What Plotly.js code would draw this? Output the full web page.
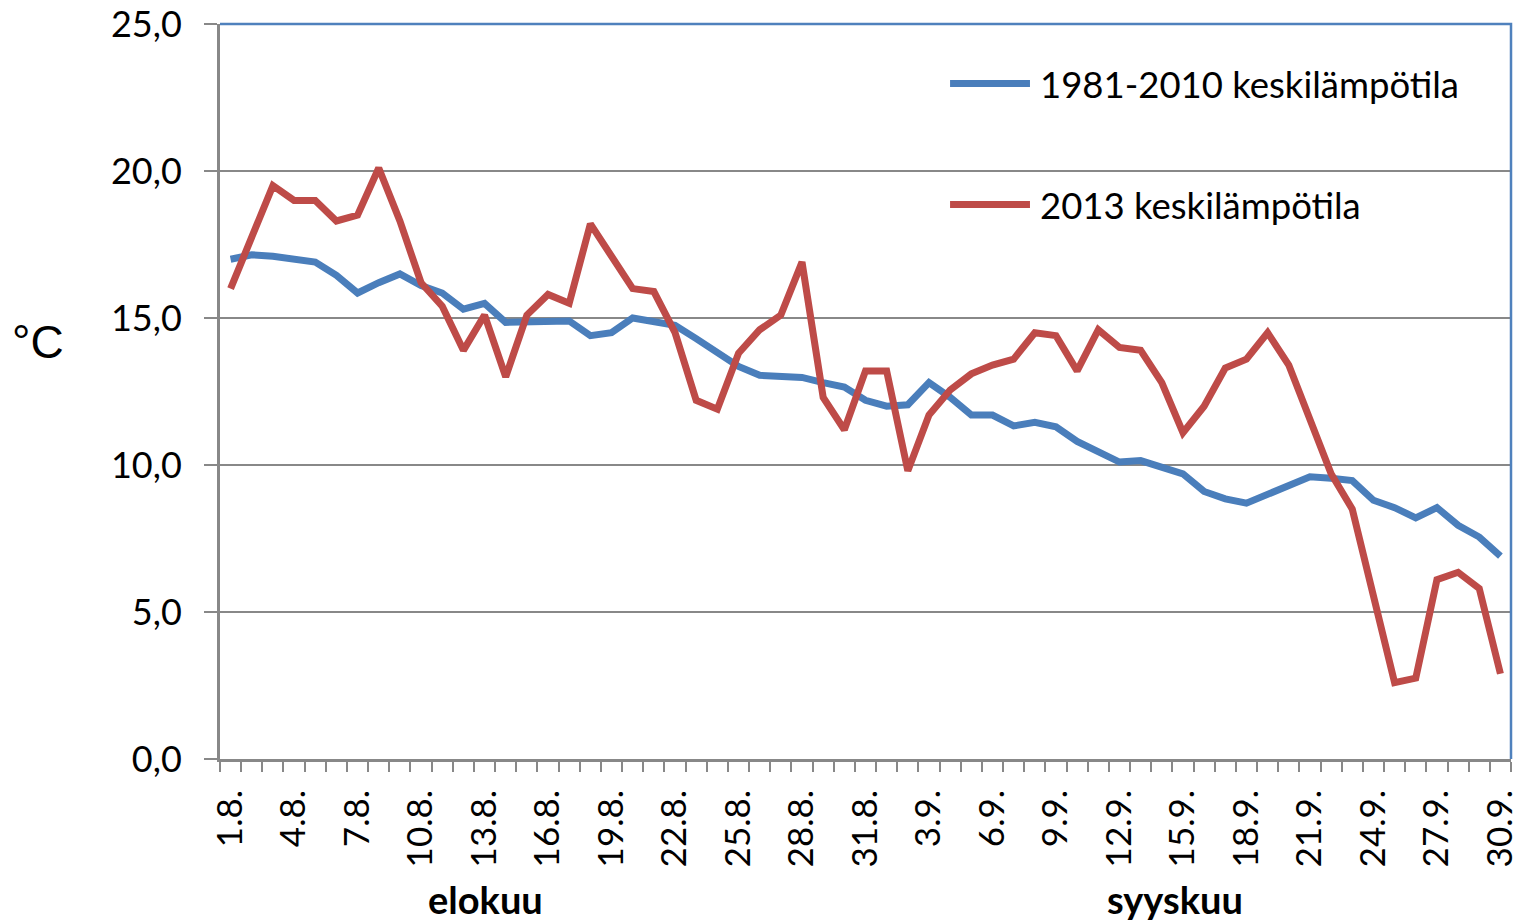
<!DOCTYPE html>
<html>
<head>
<meta charset="utf-8">
<script src="https://cdn.plot.ly/plotly-3.0.1.min.js"></script>
<style>
  html, body { margin: 0; padding: 0; background: #ffffff; }
  #chart { width: 1518px; height: 924px; }
</style>
</head>
<body>
<div id="chart"></div>
<script>
const days = [
  "1.8.","2.8.","3.8.","4.8.","5.8.","6.8.","7.8.","8.8.","9.8.","10.8.",
  "11.8.","12.8.","13.8.","14.8.","15.8.","16.8.","17.8.","18.8.","19.8.","20.8.",
  "21.8.","22.8.","23.8.","24.8.","25.8.","26.8.","27.8.","28.8.","29.8.","30.8.",
  "31.8.","1.9.","2.9.","3.9.","4.9.","5.9.","6.9.","7.9.","8.9.","9.9.",
  "10.9.","11.9.","12.9.","13.9.","14.9.","15.9.","16.9.","17.9.","18.9.","19.9.",
  "20.9.","21.9.","22.9.","23.9.","24.9.","25.9.","26.9.","27.9.","28.9.","29.9.",
  "30.9."
];
const labeledDays = [
  "1.8.","4.8.","7.8.","10.8.","13.8.","16.8.","19.8.","22.8.","25.8.","28.8.","31.8.",
  "3.9.","6.9.","9.9.","12.9.","15.9.","18.9.","21.9.","24.9.","27.9.","30.9."
];
const mean1981_2010 = [
  17.0,17.15,17.1,16.97,16.9,16.45,15.85,16.2,16.5,16.1,
  15.85,15.3,15.5,14.85,14.85,14.9,14.9,14.4,14.5,15.0,
  14.85,14.75,14.3,13.8,13.35,13.05,13.0,12.98,12.8,12.65,
  12.2,12.0,12.05,12.8,12.3,11.7,11.7,11.33,11.45,11.3,
  10.8,10.45,10.1,10.15,9.9,9.7,9.1,8.85,8.7,9.0,
  9.25,9.6,9.55,9.47,8.8,8.55,8.2,8.55,7.95,7.55,
  6.9
];
const mean2013 = [
  16.0,17.8,19.5,19.0,19.0,18.3,18.5,20.1,18.3,16.2,
  15.4,13.9,15.1,13.0,15.1,15.8,15.5,18.2,17.1,16.0,
  15.9,14.5,12.2,11.9,13.8,14.6,15.1,16.9,12.3,11.2,
  13.2,13.2,9.8,11.7,12.55,13.1,13.4,13.6,14.5,14.4,
  13.2,14.6,14.0,13.9,12.8,11.1,12.0,13.3,13.6,14.5,
  13.4,11.5,9.7,8.5,5.5,2.6,2.75,6.1,6.35,5.8,
  2.9
];
const seriesNames = ["1981-2010 keskilämpötila", "2013 keskilämpötila"];
const seriesColors = ["#4A7EBB", "#BE4B48"];
const monthNames = ["elokuu", "syyskuu"];
const yTitle = "°C";

const tickText = days.map(d => labeledDays.includes(d) ? d : "");

const traces = [
  { x: days, y: mean1981_2010, name: seriesNames[0], type: "scatter", mode: "lines",
    line: { color: seriesColors[0], width: 7 }, showlegend: false },
  { x: days, y: mean2013, name: seriesNames[1], type: "scatter", mode: "lines",
    line: { color: seriesColors[1], width: 7 }, showlegend: false }
];

const gray = "#888888";
const font = "Lato, 'Open Sans', sans-serif";

const layout = {
  width: 1518, height: 924,
  margin: { l: 220, r: 7, t: 24, b: 165 },
  paper_bgcolor: "#ffffff", plot_bgcolor: "#ffffff",
  showlegend: false,
  xaxis: {
    type: "category",
    range: [-0.5, 60.5],
    tickmode: "array", tickvals: days, ticktext: tickText,
    tickson: "boundaries",
    ticks: "outside", ticklen: 10, tickwidth: 2, tickcolor: gray,
    tickangle: -90,
    ticklabelstandoff: 14,
    tickfont: { family: font, size: 35, color: "#000000" },
    showline: true, linecolor: gray, linewidth: 3,
    showgrid: false, zeroline: false, fixedrange: true
  },
  yaxis: {
    range: [0, 25], tickmode: "linear", tick0: 0, dtick: 5,
    tickformat: ".1f",
    ticks: "outside", ticklen: 13, tickwidth: 2, tickcolor: gray,
    ticklabelstandoff: 15,
    tickfont: { family: font, size: 36, color: "#000000" },
    showline: true, linecolor: gray, linewidth: 3,
    showgrid: true, gridcolor: gray, gridwidth: 2,
    zeroline: false, fixedrange: true
  },
  separators: ", ",
  shapes: [
    { type: "path", xref: "paper", yref: "paper", path: "M0,1 L1,1 L1,0",
      line: { color: "#4F81BD", width: 2.5 }, layer: "above" },
    { type: "line", xref: "paper", yref: "paper", x0: 0.5655, x1: 0.6274, y0: 0.919, y1: 0.919,
      line: { color: seriesColors[0], width: 7 }, layer: "above" },
    { type: "line", xref: "paper", yref: "paper", x0: 0.5655, x1: 0.6274, y0: 0.7544, y1: 0.7544,
      line: { color: seriesColors[1], width: 7 }, layer: "above" }
  ],
  annotations: [
    { text: seriesNames[0], xref: "paper", yref: "paper", x: 0.6336, y: 0.919,
      xanchor: "left", yanchor: "middle", showarrow: false,
      font: { family: font, size: 36.5, color: "#000000" } },
    { text: seriesNames[1], xref: "paper", yref: "paper", x: 0.6336, y: 0.7544,
      xanchor: "left", yanchor: "middle", showarrow: false,
      font: { family: font, size: 36.5, color: "#000000" } },
    { text: "<b>" + monthNames[0] + "</b>", xref: "paper", yref: "paper", x: 0.2053, y: -0.19,
      xanchor: "center", yanchor: "middle", showarrow: false,
      font: { family: font, size: 38, color: "#000000" } },
    { text: "<b>" + monthNames[1] + "</b>", xref: "paper", yref: "paper", x: 0.7397, y: -0.19,
      xanchor: "center", yanchor: "middle", showarrow: false,
      font: { family: font, size: 38, color: "#000000" } },
    { text: yTitle, xref: "paper", yref: "paper", x: -0.141, y: 0.567,
      xanchor: "center", yanchor: "middle", showarrow: false,
      font: { family: "'Liberation Sans', Arial, sans-serif", size: 46, color: "#000000" } }
  ]
};

Plotly.newPlot("chart", traces, layout, { displayModeBar: false, staticPlot: true });
</script>
</body>
</html>
